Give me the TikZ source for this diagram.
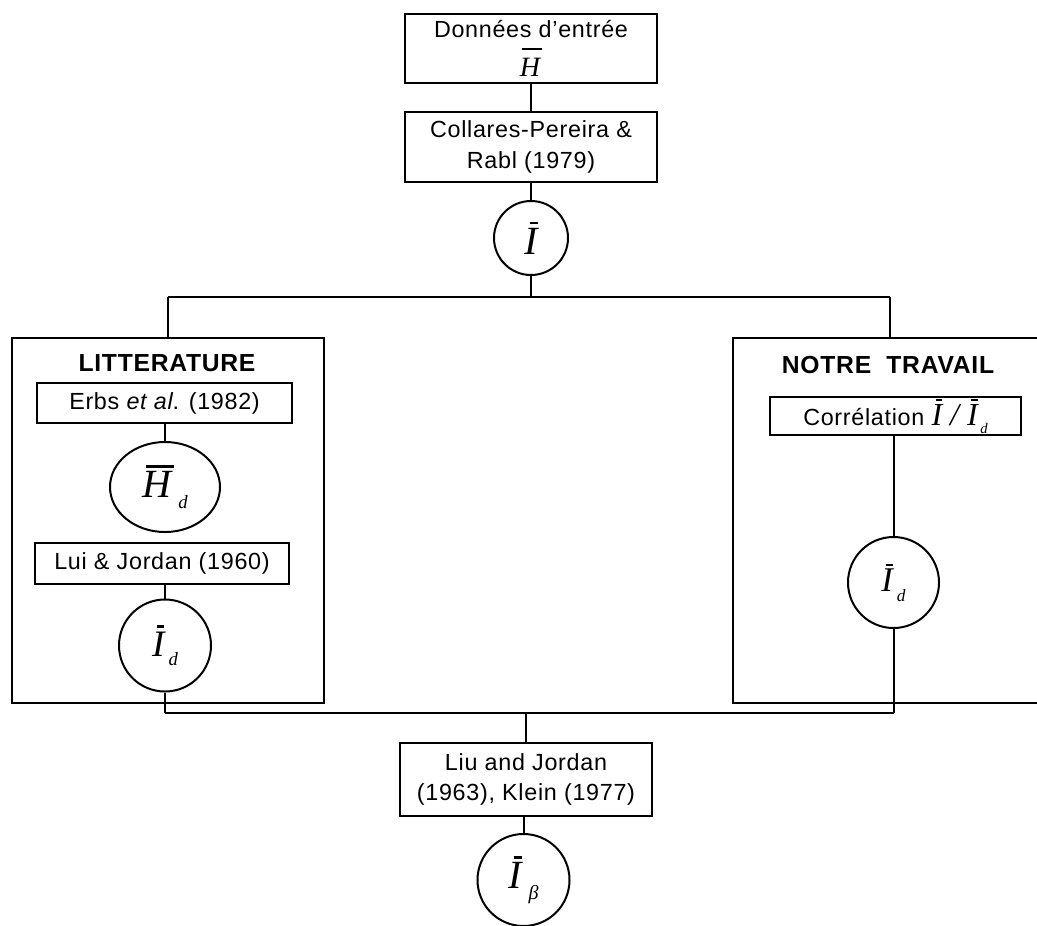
\documentclass[tikz,border=0pt]{standalone}
\usepackage{fontspec}
\setmainfont{Liberation Sans}[LetterSpace=3]
\newfontfamily\tms{Liberation Serif}
\usetikzlibrary{shapes.geometric}
% bar over content: #1 left offset, #2 bar width, #3 gap, #4 content
\newcommand{\barover}[4]{\vbox{\offinterlineskip\hbox{\kern#1\vrule width #2 height 0.065em depth 0pt}\kern#3\hbox{#4}}}
% subscript: #1 size, #2 kern, #3 drop, #4 text
\newcommand{\subx}[4]{\kern#2\lower#3\hbox{\fontsize{#1}{#1}\selectfont #4}}
\newcommand{\Ib}{\barover{0.13em}{0.2em}{0.1em}{I}}
\begin{document}
\begin{tikzpicture}[x=0.75pt,y=-0.75pt,line width=1.5pt,
  box/.style={draw,rectangle,inner sep=0pt,align=center,font=\fontsize{17.5}{23}\selectfont},
  circ/.style={draw,circle,inner sep=0pt},
  frame/.style={draw,rectangle,inner sep=0pt},
  mth/.style={font=\tms\itshape},
  ttl/.style={font=\bfseries\fontsize{18.5}{22}\selectfont}]
\useasboundingbox (0,0) rectangle (1037,925);
\clip (0,0) rectangle (1037,925);
% top
\node[box,minimum width=252*0.75pt,minimum height=69*0.75pt] (in) at (531,48.5)
  {Données d'entrée\\[6pt]{\tms\itshape\fontsize{21}{21}\selectfont\barover{0.08em}{0.72em}{0.3em}{H}}};
\node[box,minimum width=252*0.75pt,minimum height=70*0.75pt] (cp) at (531,147)
  {Collares-Pereira \&\\Rabl (1979)};
\node[circ,mth,minimum size=74*0.75pt] (I) at (531,238)
  {\fontsize{30}{30}\selectfont\Ib};
\coordinate (j) at (531,297);
\coordinate (jl) at (168,297);
\coordinate (jr) at (890,297);
% left frame
\node[frame,minimum width=312*0.75pt,minimum height=365*0.75pt] (lit) at (168,520.5) {};
\node[ttl] (litt) at (167,363) {LITTERATURE};
\node[box,minimum width=255*0.75pt,minimum height=40*0.75pt] (erbs) at (164.5,403)
  {Erbs \textit{et al}. (1982)};
\node[draw,ellipse,mth,inner sep=0pt,minimum width=110*0.75pt,minimum height=90*0.75pt] (Hd) at (165,487)
  {\fontsize{30}{30}\selectfont\barover{0.1em}{0.7em}{0.1em}{H}\subx{14}{3pt}{8pt}{d}};
\node[box,minimum width=254*0.75pt,minimum height=41*0.75pt] (lui) at (162,563.5)
  {Lui \& Jordan (1960)};
\node[circ,mth,minimum size=92*0.75pt] (Idl) at (165,645.5)
  {\fontsize{28}{28}\selectfont\Ib\subx{14}{3pt}{7pt}{d}};
% right frame
\node[frame,minimum width=327*0.75pt,minimum height=365*0.75pt] (nt) at (896.5,520.5) {};
\node[ttl] (ntt) at (888,365) {NOTRE\ \ TRAVAIL};
\node[box,minimum width=251*0.75pt,minimum height=38*0.75pt] (corr) at (895.5,416)
  {Corrélation {\tms\itshape\fontsize{24}{24}\selectfont\Ib\kern6pt/\kern6pt\Ib\subx{11}{2pt}{6pt}{d}}};
\node[circ,mth,minimum size=91*0.75pt] (Idr) at (893.5,582.5)
  {\fontsize{26}{26}\selectfont\Ib\subx{13}{3pt}{7pt}{d}};
% bottom
\coordinate (bl) at (165,713);
\coordinate (br) at (893.5,713);
\coordinate (bj) at (526,713);
\node[box,minimum width=252*0.75pt,minimum height=73*0.75pt] (liu) at (526,779.5)
  {Liu and Jordan\\(1963), Klein (1977)};
\node[circ,mth,minimum size=92*0.75pt] (Ib) at (523.5,880)
  {\fontsize{30}{30}\selectfont\Ib\subx{15}{5pt}{8pt}{β}};
% connectors
\draw (in.south) -- (cp.north);
\draw (cp.south) -- (I.north);
\draw (I.south) -- (j);
\draw (jl) -- (jr);
\draw (jl) -- (lit.north -| jl);
\draw (jr) -- (nt.north -| jr);
\draw (erbs.south -| Hd) -- (Hd.north);
\draw (lui.south -| Idl) -- (Idl.north);
\draw (Idl.south) -- (bl);
\draw (corr.south -| Idr) -- (Idr.north);
\draw (Idr.south) -- (br);
\draw (bl) -- (br);
\draw (bj) -- (liu.north -| bj);
\draw (liu.south -| Ib) -- (Ib.north);
\end{tikzpicture}
\end{document}
